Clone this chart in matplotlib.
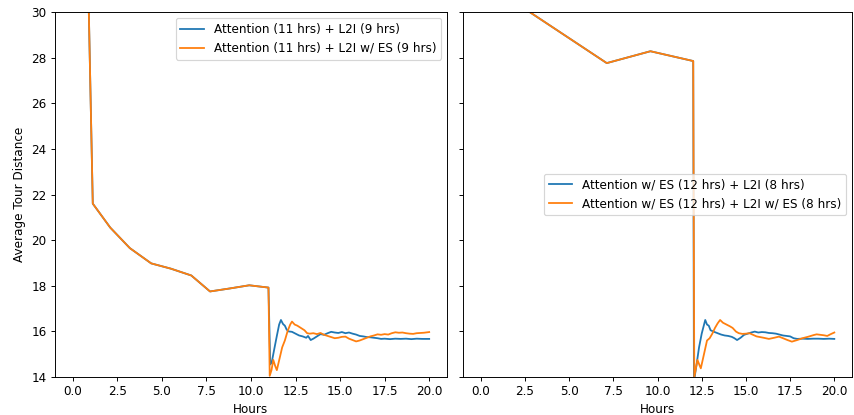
import matplotlib
matplotlib.use("Agg")
import matplotlib.pyplot as plt

# ---------------- data ----------------
# Left panel: shared pre-switch curve (Attention, 11 hrs)
left_pre_x = [0.0, 1.12, 2.1, 3.2, 4.4, 5.5, 6.65, 7.7, 8.8, 9.9, 10.98]
left_pre_y = [64.0, 21.6, 20.55, 19.65, 18.98, 18.75, 18.45, 17.75, 17.88, 18.02, 17.92]

left_blue_x = [11.08, 11.17, 11.3, 11.45, 11.58, 11.68, 11.8, 11.9, 12.0, 12.1, 12.3, 12.5,
               12.7, 12.9, 13.1, 13.2, 13.35, 13.5, 13.7, 13.9, 14.1, 14.3, 14.5, 14.7,
               14.9, 15.1, 15.3, 15.5, 15.7, 15.9, 16.1, 16.3, 16.5, 16.7, 16.9, 17.1,
               17.3, 17.5, 17.8, 18.1, 18.4, 18.7, 19.0, 19.3, 19.6, 20.0]
left_blue_y = [14.55, 14.67, 15.2, 15.8, 16.3, 16.5, 16.32, 16.25, 16.08, 16.0, 15.98, 15.9,
               15.82, 15.78, 15.72, 15.8, 15.62, 15.68, 15.78, 15.88, 15.85, 15.92, 15.98, 15.95,
               15.93, 15.97, 15.92, 15.95, 15.9, 15.86, 15.8, 15.78, 15.75, 15.74, 15.72, 15.7,
               15.67, 15.68, 15.66, 15.68, 15.67, 15.68, 15.66, 15.68, 15.67, 15.67]

left_orange_x = [11.05, 11.15, 11.25, 11.35, 11.45, 11.6, 11.75, 11.9, 12.05, 12.2, 12.3, 12.45,
                 12.6, 12.8, 13.0, 13.15, 13.3, 13.5, 13.7, 13.9, 14.1, 14.3, 14.5, 14.7,
                 14.9, 15.1, 15.3, 15.5, 15.7, 15.9, 16.1, 16.3, 16.5, 16.7, 16.9, 17.1,
                 17.3, 17.5, 17.7, 17.9, 18.1, 18.3, 18.5, 18.7, 18.9, 19.1, 19.3, 19.5,
                 19.7, 20.0]
left_orange_y = [14.05, 14.3, 14.75, 14.5, 14.3, 14.8, 15.3, 15.6, 16.0, 16.3, 16.43, 16.3,
                 16.25, 16.15, 16.05, 15.92, 15.9, 15.92, 15.88, 15.93, 15.85, 15.8, 15.75, 15.7,
                 15.72, 15.76, 15.77, 15.68, 15.62, 15.56, 15.6, 15.66, 15.72, 15.78, 15.82, 15.87,
                 15.85, 15.88, 15.86, 15.92, 15.96, 15.94, 15.95, 15.92, 15.9, 15.89, 15.92, 15.93,
                 15.94, 15.97]

# Right panel: shared pre-switch curve (Attention w/ ES, 12 hrs)
right_pre_x = [0.0, 7.13, 9.6, 12.02]
right_pre_y = [31.42, 27.76, 28.28, 27.85]

right_blue_x = [12.06, 12.2, 12.35, 12.5, 12.7, 12.8, 12.9, 13.0, 13.2, 13.4, 13.6, 13.8,
                14.0, 14.2, 14.35, 14.5, 14.7, 14.9, 15.1, 15.3, 15.5, 15.7, 15.9, 16.1,
                16.3, 16.5, 16.7, 16.9, 17.1, 17.3, 17.5, 17.7, 17.9, 18.2, 18.5, 18.8,
                19.1, 19.4, 19.7, 20.0]
right_blue_y = [13.8, 14.5, 15.3, 15.9, 16.5, 16.3, 16.25, 16.05, 15.98, 15.92, 15.86, 15.82,
                15.8, 15.76, 15.7, 15.62, 15.72, 15.85, 15.9, 15.95, 15.99, 15.95, 15.97, 15.96,
                15.93, 15.92, 15.9, 15.86, 15.82, 15.8, 15.78, 15.7, 15.67, 15.68, 15.67, 15.68,
                15.68, 15.67, 15.68, 15.67]

right_orange_x = [12.08, 12.26, 12.36, 12.45, 12.6, 12.8, 12.95, 13.1, 13.25, 13.4, 13.54, 13.7,
                  13.85, 13.95, 14.1, 14.25, 14.44, 14.6, 14.8, 15.0, 15.2, 15.4, 15.6, 15.8,
                  16.0, 16.3, 16.6, 16.87, 17.1, 17.35, 17.6, 17.9, 18.2, 18.5, 18.84, 19.0,
                  19.2, 19.4, 19.6, 19.8, 20.0]
right_orange_y = [14.0, 14.75, 14.55, 14.38, 14.9, 15.6, 15.7, 15.9, 16.15, 16.35, 16.5, 16.38,
                  16.32, 16.28, 16.22, 16.15, 15.99, 15.92, 15.89, 15.9, 15.92, 15.85, 15.78, 15.75,
                  15.72, 15.67, 15.72, 15.77, 15.7, 15.62, 15.55, 15.62, 15.7, 15.76, 15.84, 15.87,
                  15.85, 15.83, 15.8, 15.88, 15.95]

left_labels = ["Attention (11 hrs) + L2I (9 hrs)", "Attention (11 hrs) + L2I w/ ES (9 hrs)"]
right_labels = ["Attention w/ ES (12 hrs) + L2I (8 hrs)", "Attention w/ ES (12 hrs) + L2I w/ ES (8 hrs)"]
xticks = [0.0, 2.5, 5.0, 7.5, 10.0, 12.5, 15.0, 17.5, 20.0]
yticks = [14, 16, 18, 20, 22, 24, 26, 28, 30]

# ---------------- plot ----------------
plt.rcParams['font.family'] = ['DejaVu Sans']
DPI = 86
fig = plt.figure(figsize=(854 / DPI, 415 / DPI), dpi=DPI)
ax1 = fig.add_axes([55 / 854, 1 - 377 / 415, 392 / 854, 365 / 415])
ax2 = fig.add_axes([463 / 854, 1 - 377 / 415, 389 / 854, 365 / 415], sharey=ax1)

blue = '#1f77b4'
orange = '#ff7f0e'

ax1.plot(left_pre_x + left_blue_x, left_pre_y + left_blue_y, color=blue, lw=1.5, label=left_labels[0])
ax1.plot(left_pre_x + left_orange_x, left_pre_y + left_orange_y, color=orange, lw=1.5, label=left_labels[1])
ax2.plot(right_pre_x + right_blue_x, right_pre_y + right_blue_y, color=blue, lw=1.5, label=right_labels[0])
ax2.plot(right_pre_x + right_orange_x, right_pre_y + right_orange_y, color=orange, lw=1.5, label=right_labels[1])

for ax in (ax1, ax2):
    ax.set_xlim(-1, 21)
    ax.set_xticks(xticks)
    ax.set_xlabel("Hours")
ax1.set_ylim(14, 30)
ax1.set_yticks(yticks)
ax1.set_ylabel("Average Tour Distance")
plt.setp(ax2.get_yticklabels(), visible=False)

ax1.legend(loc='upper right')
ax2.legend(loc='center right')

fig.savefig("out.png", dpi=DPI)
